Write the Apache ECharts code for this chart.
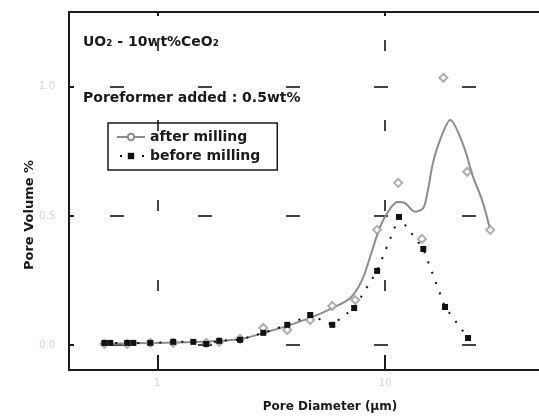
<!DOCTYPE html>
<html>
<head>
<meta charset="utf-8">
<script src="https://cdn.jsdelivr.net/npm/echarts@6/dist/echarts.min.js"></script>
<style>
  html, body { margin: 0; padding: 0; background: #fff; }
  #chart { width: 539px; height: 419px; }
</style>
</head>
<body>
<div id="chart"></div>
<script>
// pore diameter (um) / pore volume (%)
const curveX = [0.586, 0.932, 1.54, 2.31, 3.13, 3.72, 4.69, 5.86, 7.03, 7.92, 8.78, 9.49, 10.3, 11.3, 12.2, 13.5, 14.7, 15.4, 16.2, 17.4, 19.3, 22.0, 24.3, 26.6, 28.9];
const curveY = [0.004, 0.008, 0.012, 0.023, 0.054, 0.074, 0.105, 0.143, 0.182, 0.252, 0.368, 0.457, 0.516, 0.554, 0.550, 0.516, 0.531, 0.601, 0.705, 0.794, 0.872, 0.775, 0.651, 0.562, 0.446];

const afterX = [0.586, 0.738, 0.932, 1.175, 1.64, 1.87, 2.31, 2.92, 3.72, 4.69, 5.86, 7.39, 9.22, 11.4, 14.5, 18.0, 22.9, 28.9];
const afterY = [0.004, 0.004, 0.008, 0.008, 0.008, 0.012, 0.023, 0.066, 0.058, 0.097, 0.151, 0.174, 0.446, 0.628, 0.411, 1.035, 0.671, 0.446];

const beforeX = [0.586, 0.622, 0.738, 0.785, 0.932, 1.175, 1.44, 1.64, 1.87, 2.31, 2.92, 3.72, 4.69, 5.86, 7.31, 9.22, 11.5, 14.7, 18.3, 23.1];
const beforeY = [0.008, 0.008, 0.008, 0.008, 0.008, 0.012, 0.012, 0.004, 0.016, 0.02, 0.047, 0.078, 0.116, 0.078, 0.143, 0.287, 0.496, 0.372, 0.147, 0.027];

const xTicks = [1, 10];
const yTicks = [0, 0.5, 1.0];

const zip = (xs, ys) => xs.map((x, i) => [x, ys[i]]);

const font = 'DejaVu Sans';
const axisColor = '#1a1a1a';
const chart = echarts.init(document.getElementById('chart'));
const option = {
    animation: false,
    backgroundColor: '#fff',
    // the picture is cropped on the right, so no right border
    grid: {
        left: 69,
        top: 12,
        right: 0,
        bottom: 49,
        show: false
    },
    legend: {
        orient: 'vertical',
        left: 108,
        top: 123,
        data: ['after milling', 'before milling'],
        borderColor: axisColor,
        borderWidth: 1.5,
        borderRadius: 0,
        padding: [7, 17, 7, 8],
        itemWidth: 28,
        itemHeight: 8,
        itemGap: 5,
        textStyle: {
            fontFamily: font,
            fontSize: 14,
            fontWeight: 'bold',
            color: axisColor
        }
    },
    xAxis: [{
        type: 'log',
        logBase: 10,
        min: 0.41,
        max: 47.3,
        axisLine: { onZero: false, lineStyle: { color: axisColor, width: 2 } },
        axisTick: {
            inside: true,
            length: 15,
            customValues: xTicks,
            lineStyle: { color: axisColor, width: 2 }
        },
        axisLabel: {
            customValues: xTicks,
            color: '#d4d4d4',
            fontFamily: font,
            fontSize: 10,
            margin: 8
        },
        splitLine: {
            show: true,
            lineStyle: { color: '#444', width: 2, type: [11, 69], dashOffset: 52 }
        },
        minorTick: { show: false }
    }, {
        type: 'log',
        logBase: 10,
        position: 'top',
        min: 0.41,
        max: 47.3,
        axisLine: { show: true, onZero: false, lineStyle: { color: axisColor, width: 2 } },
        axisTick: {
            inside: true,
            length: 4,
            customValues: xTicks,
            lineStyle: { color: axisColor, width: 2 }
        },
        axisLabel: { show: false },
        splitLine: { show: false }
    }],
    yAxis: {
        type: 'value',
        min: -0.097,
        max: 1.29,
        axisLine: { show: true, onZero: false, lineStyle: { color: axisColor, width: 2 } },
        axisTick: {
            show: true,
            inside: true,
            length: 5,
            customValues: yTicks,
            lineStyle: { color: axisColor, width: 2 }
        },
        axisLabel: {
            customValues: yTicks,
            formatter: v => v.toFixed(1),
            color: '#d4d4d4',
            fontFamily: font,
            fontSize: 10,
            margin: 14
        },
        splitLine: {
            show: true,
            lineStyle: { color: '#444', width: 2, type: [14, 74], dashOffset: 47 }
        }
    },
    graphic: [
        {
            type: 'text',
            left: 83,
            top: 35,
            style: {
                text: 'UO₂ - 10wt%CeO₂',
                font: 'bold 14px "DejaVu Sans"',
                fill: axisColor
            }
        },
        {
            type: 'text',
            left: 83,
            top: 91,
            style: {
                text: 'Poreformer added : 0.5wt%',
                font: 'bold 14px "DejaVu Sans"',
                fill: axisColor
            }
        },
        {
            type: 'text',
            x: 30,
            y: 215,
            rotation: Math.PI / 2,
            style: {
                text: 'Pore Volume %',
                font: 'bold 13px "DejaVu Sans"',
                fill: axisColor,
                align: 'center',
                verticalAlign: 'middle'
            }
        },
        {
            type: 'text',
            x: 330,
            y: 407,
            style: {
                text: 'Pore Diameter (μm)',
                font: 'bold 12px "DejaVu Sans"',
                fill: axisColor,
                align: 'center',
                verticalAlign: 'middle'
            }
        }
    ],
    series: [
        {
            name: 'after milling',
            type: 'line',
            data: zip(curveX, curveY),
            smooth: 0.3,
            showSymbol: false,
            symbol: 'emptyCircle',
            symbolSize: 7,
            lineStyle: { color: '#8c8c8c', width: 2 },
            itemStyle: { color: '#8c8c8c' },
            z: 2
        },
        {
            name: 'after milling',
            type: 'scatter',
            data: zip(afterX, afterY),
            symbol: 'emptyDiamond',
            symbolSize: 8,
            itemStyle: { color: '#9a9a9a', borderWidth: 1.2 },
            z: 3
        },
        {
            name: 'before milling',
            type: 'line',
            data: zip(beforeX, beforeY),
            symbol: 'rect',
            symbolSize: 6,
            lineStyle: { color: '#111', width: 2, type: [2, 9] },
            itemStyle: { color: '#111' },
            z: 4
        }
    ]
};
chart.setOption(option);
</script>
</body>
</html>
